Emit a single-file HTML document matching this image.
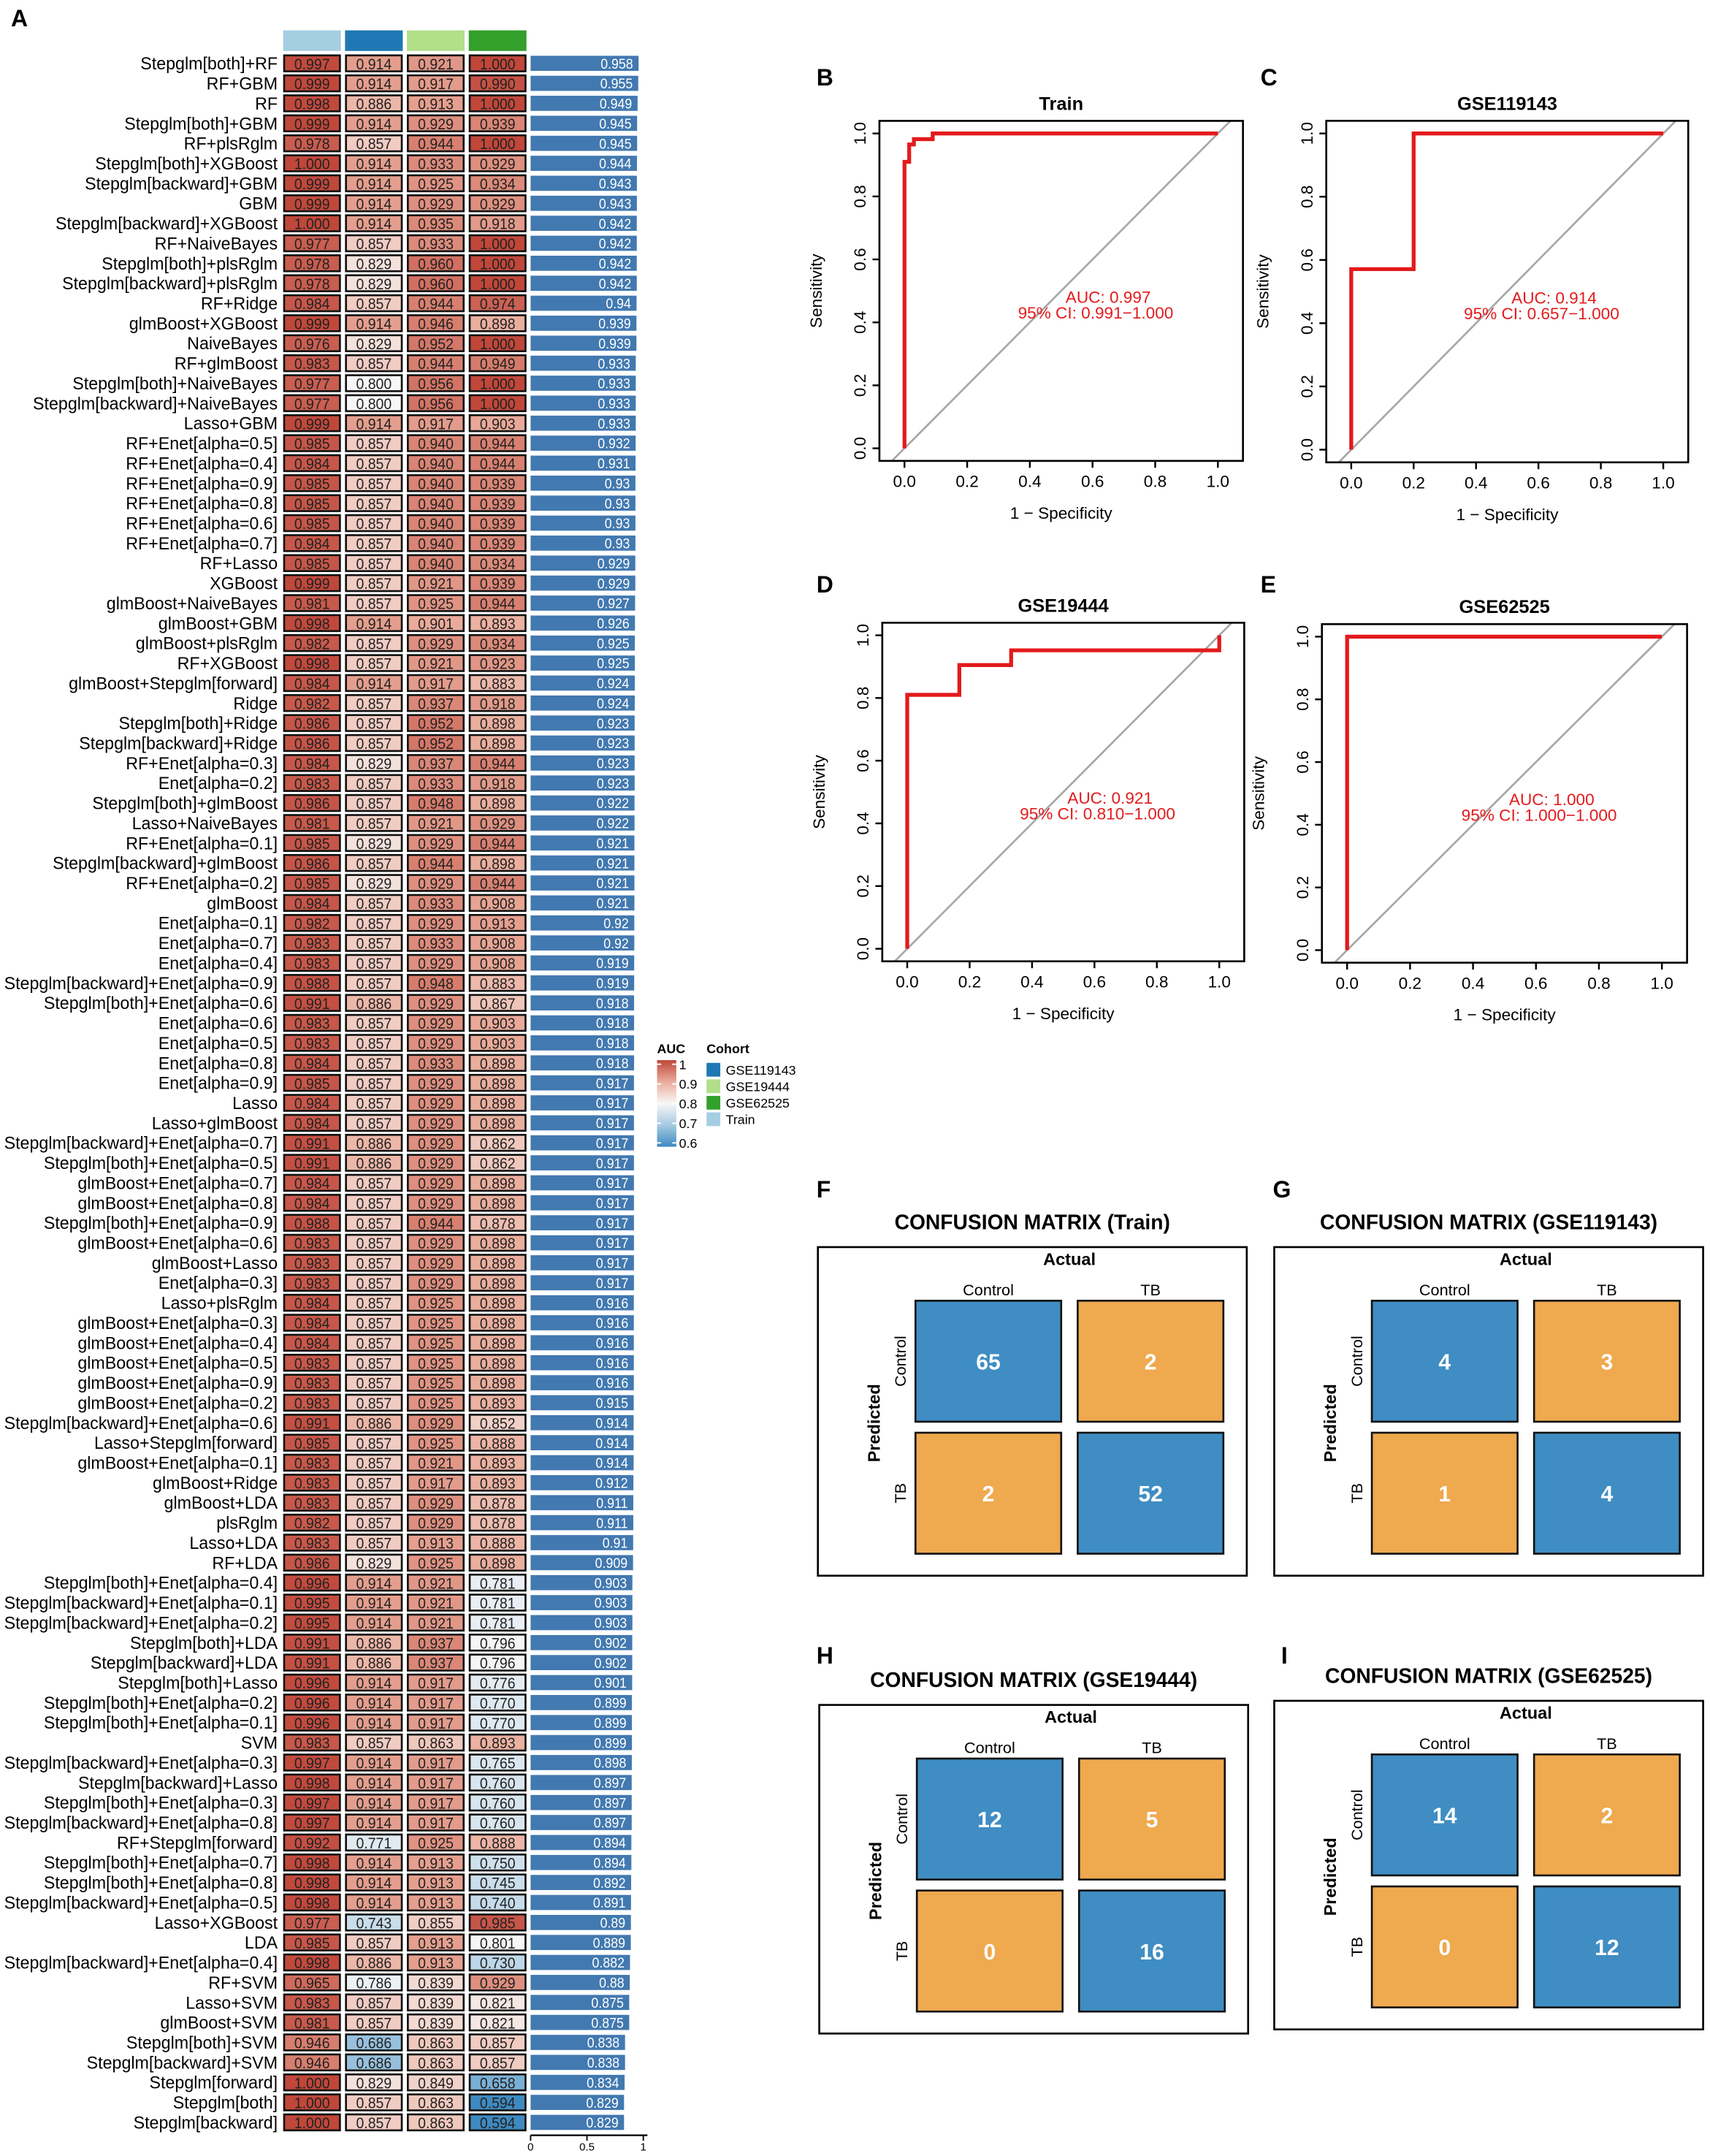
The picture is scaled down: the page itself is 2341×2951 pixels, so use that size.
<!DOCTYPE html>
<html><head><meta charset="utf-8">
<style>
html,body{margin:0;padding:0;background:#fff;}
svg{display:block;}
text{font-family:"Liberation Sans",sans-serif;}
</style></head>
<body>
<svg id="fig" xmlns="http://www.w3.org/2000/svg" width="2341" height="2951" viewBox="0 0 1244 1568">
<rect x="0" y="0" width="1244" height="1568" fill="#fff"/>
<g id="heat"></g>
<g id="legend"></g>
<g id="roc"></g>
<g id="cm"></g>
</svg>
<script>
const models=["Stepglm[both]+RF","RF+GBM","RF","Stepglm[both]+GBM","RF+plsRglm","Stepglm[both]+XGBoost","Stepglm[backward]+GBM","GBM","Stepglm[backward]+XGBoost","RF+NaiveBayes","Stepglm[both]+plsRglm","Stepglm[backward]+plsRglm","RF+Ridge","glmBoost+XGBoost","NaiveBayes","RF+glmBoost","Stepglm[both]+NaiveBayes","Stepglm[backward]+NaiveBayes","Lasso+GBM","RF+Enet[alpha=0.5]","RF+Enet[alpha=0.4]","RF+Enet[alpha=0.9]","RF+Enet[alpha=0.8]","RF+Enet[alpha=0.6]","RF+Enet[alpha=0.7]","RF+Lasso","XGBoost","glmBoost+NaiveBayes","glmBoost+GBM","glmBoost+plsRglm","RF+XGBoost","glmBoost+Stepglm[forward]","Ridge","Stepglm[both]+Ridge","Stepglm[backward]+Ridge","RF+Enet[alpha=0.3]","Enet[alpha=0.2]","Stepglm[both]+glmBoost","Lasso+NaiveBayes","RF+Enet[alpha=0.1]","Stepglm[backward]+glmBoost","RF+Enet[alpha=0.2]","glmBoost","Enet[alpha=0.1]","Enet[alpha=0.7]","Enet[alpha=0.4]","Stepglm[backward]+Enet[alpha=0.9]","Stepglm[both]+Enet[alpha=0.6]","Enet[alpha=0.6]","Enet[alpha=0.5]","Enet[alpha=0.8]","Enet[alpha=0.9]","Lasso","Lasso+glmBoost","Stepglm[backward]+Enet[alpha=0.7]","Stepglm[both]+Enet[alpha=0.5]","glmBoost+Enet[alpha=0.7]","glmBoost+Enet[alpha=0.8]","Stepglm[both]+Enet[alpha=0.9]","glmBoost+Enet[alpha=0.6]","glmBoost+Lasso","Enet[alpha=0.3]","Lasso+plsRglm","glmBoost+Enet[alpha=0.3]","glmBoost+Enet[alpha=0.4]","glmBoost+Enet[alpha=0.5]","glmBoost+Enet[alpha=0.9]","glmBoost+Enet[alpha=0.2]","Stepglm[backward]+Enet[alpha=0.6]","Lasso+Stepglm[forward]","glmBoost+Enet[alpha=0.1]","glmBoost+Ridge","glmBoost+LDA","plsRglm","Lasso+LDA","RF+LDA","Stepglm[both]+Enet[alpha=0.4]","Stepglm[backward]+Enet[alpha=0.1]","Stepglm[backward]+Enet[alpha=0.2]","Stepglm[both]+LDA","Stepglm[backward]+LDA","Stepglm[both]+Lasso","Stepglm[both]+Enet[alpha=0.2]","Stepglm[both]+Enet[alpha=0.1]","SVM","Stepglm[backward]+Enet[alpha=0.3]","Stepglm[backward]+Lasso","Stepglm[both]+Enet[alpha=0.3]","Stepglm[backward]+Enet[alpha=0.8]","RF+Stepglm[forward]","Stepglm[both]+Enet[alpha=0.7]","Stepglm[both]+Enet[alpha=0.8]","Stepglm[backward]+Enet[alpha=0.5]","Lasso+XGBoost","LDA","Stepglm[backward]+Enet[alpha=0.4]","RF+SVM","Lasso+SVM","glmBoost+SVM","Stepglm[both]+SVM","Stepglm[backward]+SVM","Stepglm[forward]","Stepglm[both]","Stepglm[backward]"];
const trainAUC=[.997,.999,.998,.999,.978,1.000,.999,.999,1.000,.977,.978,.978,.984,.999,.976,.983,.977,.977,.999,.985,.984,.985,.985,.985,.984,.985,.999,.981,.998,.982,.998,.984,.982,.986,.986,.984,.983,.986,.981,.985,.986,.985,.984,.982,.983,.983,.988,.991,.983,.983,.984,.985,.984,.984,.991,.991,.984,.984,.988,.983,.983,.983,.984,.984,.984,.983,.983,.983,.991,.985,.983,.983,.983,.982,.983,.986,.996,.995,.995,.991,.991,.996,.996,.996,.983,.997,.998,.997,.997,.992,.998,.998,.998,.977,.985,.998,.965,.983,.981,.946,.946,1.000,1.000,1.000];
const gse119143AUC=[.914,.914,.886,.914,.857,.914,.914,.914,.914,.857,.829,.829,.857,.914,.829,.857,.800,.800,.914,.857,.857,.857,.857,.857,.857,.857,.857,.857,.914,.857,.857,.914,.857,.857,.857,.829,.857,.857,.857,.829,.857,.829,.857,.857,.857,.857,.857,.886,.857,.857,.857,.857,.857,.857,.886,.886,.857,.857,.857,.857,.857,.857,.857,.857,.857,.857,.857,.857,.886,.857,.857,.857,.857,.857,.857,.829,.914,.914,.914,.886,.886,.914,.914,.914,.857,.914,.914,.914,.914,.771,.914,.914,.914,.743,.857,.886,.786,.857,.857,.686,.686,.829,.857,.857];
const gse19444AUC=[.921,.917,.913,.929,.944,.933,.925,.929,.935,.933,.960,.960,.944,.946,.952,.944,.956,.956,.917,.940,.940,.940,.940,.940,.940,.940,.921,.925,.901,.929,.921,.917,.937,.952,.952,.937,.933,.948,.921,.929,.944,.929,.933,.929,.933,.929,.948,.929,.929,.929,.933,.929,.929,.929,.929,.929,.929,.929,.944,.929,.929,.929,.925,.925,.925,.925,.925,.925,.929,.925,.921,.917,.929,.929,.913,.925,.921,.921,.921,.937,.937,.917,.917,.917,.863,.917,.917,.917,.917,.925,.913,.913,.913,.855,.913,.913,.839,.839,.839,.863,.863,.849,.863,.863];
const gse62525AUC=[1.000,.990,1.000,.939,1.000,.929,.934,.929,.918,1.000,1.000,1.000,.974,.898,1.000,.949,1.000,1.000,.903,.944,.944,.939,.939,.939,.939,.934,.939,.944,.893,.934,.923,.883,.918,.898,.898,.944,.918,.898,.929,.944,.898,.944,.908,.913,.908,.908,.883,.867,.903,.903,.898,.898,.898,.898,.862,.862,.898,.898,.878,.898,.898,.898,.898,.898,.898,.898,.898,.893,.852,.888,.893,.893,.878,.878,.888,.898,.781,.781,.781,.796,.796,.776,.770,.770,.893,.765,.760,.760,.760,.888,.750,.745,.740,.985,.801,.730,.929,.821,.821,.857,.857,.658,.594,.594];
const meanAUC=[.958,.955,.949,.945,.945,.944,.943,.943,.942,.942,.942,.942,.94,.939,.939,.933,.933,.933,.933,.932,.931,.93,.93,.93,.93,.929,.929,.927,.926,.925,.925,.924,.924,.923,.923,.923,.923,.922,.922,.921,.921,.921,.921,.92,.92,.919,.919,.918,.918,.918,.918,.917,.917,.917,.917,.917,.917,.917,.917,.917,.917,.917,.916,.916,.916,.916,.916,.915,.914,.914,.914,.912,.911,.911,.91,.909,.903,.903,.903,.902,.902,.901,.899,.899,.899,.898,.897,.897,.897,.894,.894,.892,.891,.89,.889,.882,.88,.875,.875,.838,.838,.834,.829,.829];
const cohorts=["Train","GSE119143","GSE19444","GSE62525"];
const barTicks=[0,0.5,1];
const aucLegendTicks=[1,0.9,0.8,0.7,0.6];
const legendCohorts=["GSE119143","GSE19444","GSE62525","Train"];

const rocNames=["Train","GSE119143","GSE19444","GSE62525"];
const rocFPR=[[0,0,0.015,0.015,0.03,0.03,0.09,0.09,1],[0,0,0.2,0.2,1],[0,0,0.167,0.167,0.333,0.333,1,1],[0,0,1]];
const rocTPR=[[0,0.91,0.91,0.965,0.965,0.982,0.982,1,1],[0,0.571,0.571,1,1],[0,0.81,0.81,0.905,0.905,0.952,0.952,1],[0,1,1]];
const rocAUC=["0.997","0.914","0.921","1.000"];
const rocCI=["0.991\u22121.000","0.657\u22121.000","0.810\u22121.000","1.000\u22121.000"];
const rocTicks=[0,0.2,0.4,0.6,0.8,1.0];

const cmTitles=["Train","GSE119143","GSE19444","GSE62525"];
const cmValues=[[65,2,2,52],[4,3,1,4],[12,5,0,16],[14,2,0,12]];
const cmClasses=["Control","TB"];

const NS="http://www.w3.org/2000/svg";
function mk(tag,attrs,parent){const e=document.createElementNS(NS,tag);for(const k in attrs)e.setAttribute(k,attrs[k]);parent.appendChild(e);return e;}
function txt(s,attrs,parent){const e=mk("text",attrs,parent);e.textContent=s;return e;}

const stops=[[0.6,[62,138,192]],[0.7,[166,201,226]],[0.8,[247,247,247]],[0.9,[234,172,155]],[1.0,[192,71,58]]];
function col(v){if(v<=stops[0][0])return "rgb("+stops[0][1]+")";for(let i=1;i<stops.length;i++){if(v<=stops[i][0]){const a=stops[i-1],b=stops[i];const t=(v-a[0])/(b[0]-a[0]);return "rgb("+a[1].map((c,j)=>Math.round(c+(b[1][j]-c)*t)).join(",")+")";}}return "rgb("+stops[4][1]+")";}

const heat=document.getElementById("heat");
const colX=[206,251,296,341], cellW=42;
const rowTop=i=>39.5+i*14.54, cellH=13;
const barX=v=>386+v*82;
const cohortColors={"Train":"#a6cee3","GSE119143":"#1f78b4","GSE19444":"#b2df8a","GSE62525":"#33a02c"};
const pa=txt("A",{x:8,y:19,"font-size":17,"font-weight":"bold"},heat);


cohorts.forEach((c,j)=>{const r=mk("rect",{x:colX[j],y:22,width:cellW,height:15,fill:cohortColors[c]},heat);});
const cols=[trainAUC,gse119143AUC,gse19444AUC,gse62525AUC];
models.forEach((m,i)=>{
  const y=rowTop(i);
  const g=mk("g",{},heat);
  
  
  const lt=txt(m,{x:0,y:0,"text-anchor":"end","font-size":12.6,transform:"translate(202,"+(y+11)+") scale(0.98,1)"},g);
  
  
  cols.forEach((arr,j)=>{
    const v=arr[i];
    const r=mk("rect",{x:colX[j]+0.7,y:y+0.7,width:cellW-1.4,height:cellH-1.4,fill:col(v),stroke:"#111","stroke-width":1.4},g);
    
    
    const t=txt(v.toFixed(3),{x:0,y:0,"text-anchor":"middle","font-size":11.5,fill:"#222",transform:"translate("+(colX[j]+cellW/2)+","+(y+10.8)+") scale(0.9,1)"},g);
    
    
  });
  const mv=meanAUC[i];
  const b=mk("rect",{x:barX(0),y:y+1,width:barX(mv)-barX(0),height:11,fill:"#4279b0"},g);
  
  
  const bt=txt(String(mv),{x:0,y:0,"text-anchor":"end","font-size":10.5,fill:"#fff",transform:"translate("+(barX(mv)-4)+","+(y+10.3)+") scale(0.9,1)"},g);
  
  
});
const ax=mk("g",{},heat);


mk("line",{x1:barX(0),x2:barX(1)+3,y1:1553,y2:1553,stroke:"#000","stroke-width":1.2},ax);
barTicks.forEach(t=>{mk("line",{x1:barX(t),x2:barX(t),y1:1553,y2:1557,stroke:"#000","stroke-width":1},ax);txt(String(t),{x:barX(t),y:1564,"text-anchor":"middle","font-size":8},ax);});

const lg=document.getElementById("legend");
txt("AUC",{x:478,y:766,"font-size":9.5,"font-weight":"bold"},lg);
const defs=mk("defs",{},lg);
const grad=mk("linearGradient",{id:"aucgrad",x1:0,y1:0,x2:0,y2:1},defs);
[1,0.95,0.9,0.85,0.8,0.75,0.7,0.65,0.6].forEach((v,k)=>mk("stop",{offset:(k/8),"stop-color":col(v)},grad));
const lgY=v=>774+(1-v)*143;
mk("rect",{x:478,y:771,width:14,height:63,fill:"url(#aucgrad)"},lg);
aucLegendTicks.forEach(v=>{const yy=lgY(v);mk("line",{x1:478,x2:481,y1:yy,y2:yy,stroke:"#fff","stroke-width":1},lg);mk("line",{x1:489,x2:492,y1:yy,y2:yy,stroke:"#fff","stroke-width":1},lg);txt(String(v),{x:494,y:yy+3.5,"font-size":9.5},lg);});
txt("Cohort",{x:514,y:766,"font-size":9.5,"font-weight":"bold"},lg);
legendCohorts.forEach((c,k)=>{const yy=773+k*12;const r=mk("rect",{x:514,y:yy,width:10,height:10,fill:cohortColors[c]},lg);txt(c,{x:528,y:yy+8.5,"font-size":9.5},lg);});

const roc=document.getElementById("roc");
const rocCfg=[{lab:"B",lx:594,ly:62,x0:658,x1:886,y0:326,y1:97},{lab:"C",lx:917,ly:62,x0:983,x1:1210,y0:327,y1:97},{lab:"D",lx:594,ly:431,x0:660,x1:887,y0:690,y1:462},{lab:"E",lx:917,ly:431,x0:980,x1:1209,y0:691,y1:463}];
rocNames.forEach((nm,p)=>{
  const c=rocCfg[p];
  const sx=v=>c.x0+v*(c.x1-c.x0), sy=v=>c.y0+v*(c.y1-c.y0);
  const g=mk("g",{},roc);
  
  
  txt(c.lab,{x:c.lx,y:c.ly,"font-size":17,"font-weight":"bold"},g);
  txt(nm,{x:(sx(0)+sx(1))/2,y:sy(1.04)-8,"text-anchor":"middle","font-size":13.5,"font-weight":"bold"},g);
  mk("line",{x1:sx(-0.04),y1:sy(-0.04),x2:sx(1.04),y2:sy(1.04),stroke:"#a6a6a6","stroke-width":1.4},g);
  let d="";rocFPR[p].forEach((f,k)=>{d+=(k?"L":"M")+sx(f).toFixed(2)+","+sy(rocTPR[p][k]).toFixed(2);});
  const pl=mk("path",{d:d,fill:"none",stroke:"#e31a1c","stroke-width":2.8,"stroke-linejoin":"miter"},g);
  
  
  mk("rect",{x:sx(-0.08),y:sy(1.04),width:sx(1.08)-sx(-0.08),height:sy(-0.04)-sy(1.04),fill:"none",stroke:"#000","stroke-width":1.4},g);
  rocTicks.forEach(t=>{
    mk("line",{x1:sx(t),x2:sx(t),y1:sy(-0.04),y2:sy(-0.04)+5,stroke:"#000","stroke-width":1.3},g);
    txt(t.toFixed(1),{x:sx(t),y:sy(-0.04)+19,"text-anchor":"middle","font-size":12},g);
    mk("line",{x1:sx(-0.08),x2:sx(-0.08)-5,y1:sy(t),y2:sy(t),stroke:"#000","stroke-width":1.3},g);
    txt(t.toFixed(1),{x:0,y:0,"text-anchor":"middle","font-size":12,transform:"translate("+(sx(-0.08)-10)+","+sy(t)+") rotate(-90)"},g);
  });
  txt("1 \u2212 Specificity",{x:(sx(0)+sx(1))/2,y:sy(-0.04)+42,"text-anchor":"middle","font-size":12},g);
  txt("Sensitivity",{x:0,y:0,"text-anchor":"middle","font-size":12,transform:"translate("+(sx(-0.08)-42)+","+sy(0.5)+") rotate(-90)"},g);
  txt("AUC: "+rocAUC[p],{x:sx(0.65),y:sy(0.48)+4,"text-anchor":"middle","font-size":12,fill:"#e31a1c"},g);
  txt("95% CI: "+rocCI[p],{x:sx(0.61),y:sy(0.43)+4,"text-anchor":"middle","font-size":12,fill:"#e31a1c"},g);
});

const cm=document.getElementById("cm");
const cmCfg=[{lab:"F",lx:594,ly:871,bx:595,by:907},{lab:"G",lx:926,ly:871,bx:927,by:907},{lab:"H",lx:594,ly:1210,bx:596,by:1240},{lab:"I",lx:932,ly:1210,bx:927,by:1237}];
cmTitles.forEach((nm,p)=>{
  const c=cmCfg[p];const g=mk("g",{},cm);
  
  
  const bx=c.bx,by=c.by;
  txt(c.lab,{x:c.lx,y:c.ly,"font-size":17,"font-weight":"bold"},g);
  txt("CONFUSION MATRIX ("+nm+")",{x:bx+156,y:by-13,"text-anchor":"middle","font-size":15,"font-weight":"bold"},g);
  mk("rect",{x:bx,y:by,width:312,height:239,fill:"none",stroke:"#000","stroke-width":1.4},g);
  txt("Actual",{x:bx+183,y:by+13,"text-anchor":"middle","font-size":12.5,"font-weight":"bold"},g);
  txt("Predicted",{x:0,y:0,"text-anchor":"middle","font-size":12.5,"font-weight":"bold",transform:"translate("+(bx+45)+","+(by+128)+") rotate(-90)"},g);
  const cx=[bx+71,bx+189], cy=[by+39,by+135], w=106, h=88;
  cmClasses.forEach((cl,k)=>{
    txt(cl,{x:cx[k]+w/2,y:by+35,"text-anchor":"middle","font-size":11.5},g);
    txt(cl,{x:0,y:0,"text-anchor":"middle","font-size":11.5,transform:"translate("+(bx+64)+","+(cy[k]+h/2)+") rotate(-90)"},g);
  });
  cmValues[p].forEach((v,k)=>{
    const r=Math.floor(k/2),cc=k%2;
    const fill=(r===cc)?"#3f8dc3":"#efa94f";
    const rc=mk("rect",{x:cx[cc],y:cy[r],width:w,height:h,fill:fill,stroke:"#111","stroke-width":1.4},g);
    
    
    txt(String(v),{x:cx[cc]+w/2,y:cy[r]+h/2+6,"text-anchor":"middle","font-size":16,"font-weight":"bold",fill:"#fff"},g);
  });
});
</script>
</body></html>
